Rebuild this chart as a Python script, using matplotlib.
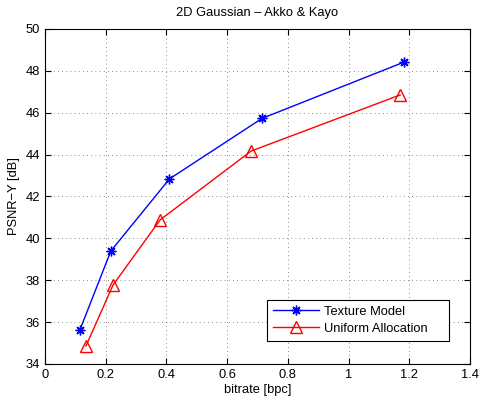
import matplotlib
matplotlib.use('Agg')
import matplotlib.pyplot as plt

# data
tm_rate = [0.115, 0.217, 0.41, 0.715, 1.183]
tm_psnr = [35.63, 39.4, 42.84, 45.73, 48.42]
ua_rate = [0.135, 0.224, 0.379, 0.679, 1.17]
ua_psnr = [34.86, 37.77, 40.88, 44.17, 46.85]

xticks = [0, 0.2, 0.4, 0.6, 0.8, 1, 1.2, 1.4]
xticklabels = ['0', '0.2', '0.4', '0.6', '0.8', '1', '1.2', '1.4']
yticks = [34, 36, 38, 40, 42, 44, 46, 48, 50]

plt.rcParams['font.family'] = ['Liberation Sans', 'DejaVu Sans']
plt.rcParams['font.size'] = 9.3

fig = plt.figure(figsize=(4.81, 4.01), dpi=100)
ax = fig.add_axes([0.0936, 0.0923, 0.8834, 0.8354])

# matlab style asterisk: plus and cross together
ax.plot(tm_rate, tm_psnr, color='blue', linewidth=1, marker=(8, 2, 0), markersize=7,
        markeredgewidth=1, markeredgecolor='blue', label='Texture Model')
ax.plot(ua_rate, ua_psnr, color='red', linewidth=1, marker='^', markersize=8,
        markerfacecolor='none', markeredgecolor='red', markeredgewidth=1,
        label='Uniform Allocation')

ax.set_xlim(0, 1.4)
ax.set_ylim(34, 50)
ax.set_xticks(xticks)
ax.set_xticklabels(xticklabels)
ax.set_yticks(yticks)
ax.tick_params(direction='in', length=4, top=True, right=True, colors='black')
ax.grid(True, linestyle=(0, (1, 4)), color='black', linewidth=0.6, alpha=0.6)

ax.set_xlabel('bitrate [bpc]', labelpad=2)
ax.set_ylabel('PSNR\u2212Y [dB]', labelpad=4)
ax.set_title('2D Gaussian \u2013 Akko & Kayo', fontsize=9.3, pad=9)

leg = ax.legend(loc='lower left', bbox_to_anchor=(0.522, 0.07, 0.429, 0.12),
                mode='expand', fancybox=False, framealpha=1, edgecolor='black',
                borderpad=0.45, handlelength=3.6, handletextpad=0.35,
                labelspacing=0.4, borderaxespad=0)
leg.get_frame().set_linewidth(0.8)

fig.savefig('out.png', dpi=100)
